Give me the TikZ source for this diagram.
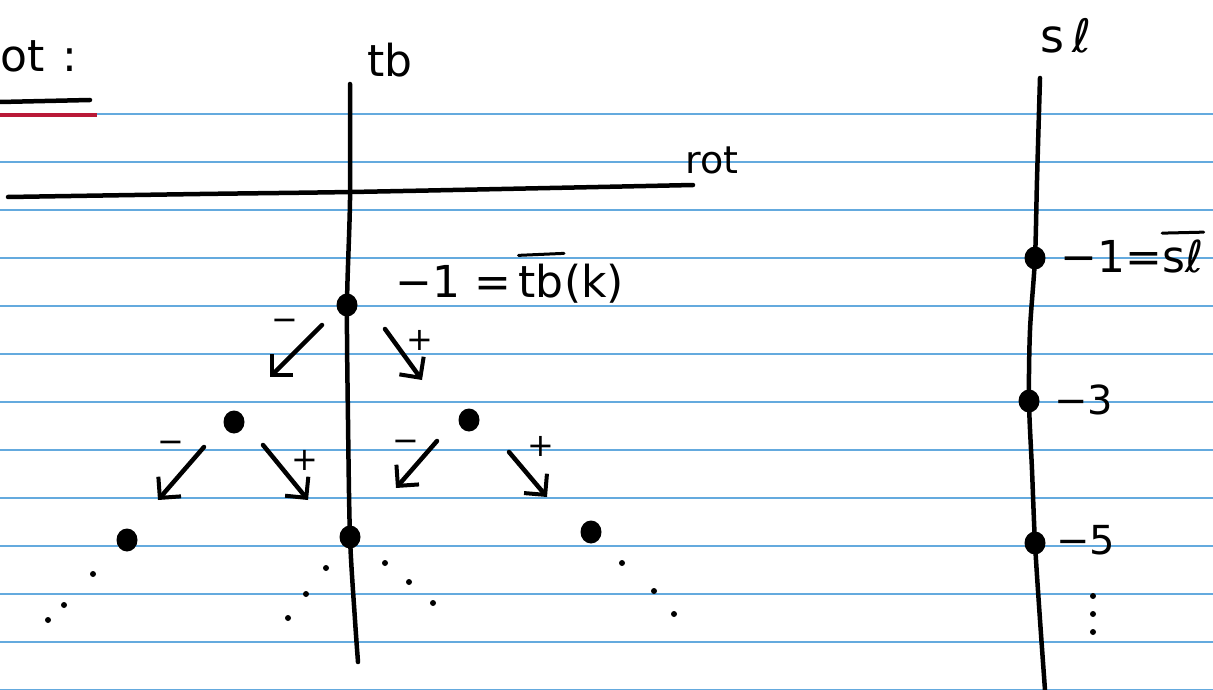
\documentclass[tikz,border=0pt]{standalone}
\usepackage{fontspec}
\setmainfont{DejaVu Sans}
\usetikzlibrary{arrows.meta,positioning}
\tikzset{
  ink/.style={line width=4.5pt, line cap=round, line join=round},
  thinink/.style={line width=3pt, line cap=round},
  paperline/.style={line width=1.6pt, color=ruleblue},
  bigdot/.style={ellipse, fill=black, inner sep=0pt, minimum width=21pt, minimum height=23pt},
  tinydot/.style={circle, fill=black, inner sep=0pt, minimum size=6pt},
  hand/.style={inner sep=0pt, font=\fontsize{44}{50}\selectfont},
  signmark/.style={inner sep=0pt, font=\fontsize{32}{34}\selectfont},
  movearrow/.style={ink, -{Straight Barb[length=15pt,width=30pt,line width=4pt]}}
}
\usetikzlibrary{shapes.geometric}
\definecolor{ruleblue}{RGB}{100,170,222}
\definecolor{marginred}{RGB}{185,25,55}
\begin{document}
\begin{tikzpicture}[x=1pt,y=-1pt]
\useasboundingbox (0,0) rectangle (1213,690);
\fill[white] (0,0) rectangle (1213,690);
% ruled paper
\foreach \k in {0,...,12} \draw[paperline] (0,{114+48*\k}) -- (1213,{114+48*\k});
\draw[line width=3.5pt, marginred] (0,115) -- (97,115);

% title
\node[hand, anchor=west] (title) at (0,56) {ot\hspace{18pt}:};
\draw[ink] (0,102) -- (90,100);

% axes
\node[hand] (tblab) at (390,60) {tb};
\draw[ink] plot[smooth] coordinates {(350,84) (350,200) (347,305) (348,420) (350,537) (355,620) (358,662)};
\draw[ink] plot[smooth] coordinates {(8,197) (200,194) (350,192) (550,188) (693,185)};
\node[inner sep=0pt, font=\fontsize{38}{40}\selectfont] (rotlab) at (712,160) {rot};

% tree dots
\node[bigdot] (d0) at (347,305) {};
\node[bigdot] (d1) at (234,422) {};
\node[bigdot] (d2) at (469,420) {};
\node[bigdot] (d3) at (127,540) {};
\node[bigdot] (d4) at (350,537) {};
\node[bigdot] (d5) at (591,532) {};
\node[hand, anchor=base west] (d0a) at (395,297) {−1 =\,};
\node[hand, anchor=base west] (d0b) at (d0a.base east) {tb};
\node[hand, anchor=base west] (d0c) at (d0b.base east) {(k)};
\draw[thinink] ([yshift=8pt]d0b.north west) -- ([yshift=10pt]d0b.north east);

% arrows with signs
\coordinate (a1s) at (322,325); \coordinate (a1e) at (270,377);
\coordinate (a2s) at (385,329); \coordinate (a2e) at (422,380);
\coordinate (a3s) at (204,447); \coordinate (a3e) at (158,500);
\coordinate (a4s) at (263,445); \coordinate (a4e) at (308,500);
\coordinate (a5s) at (437,441); \coordinate (a5e) at (396,488);
\coordinate (a6s) at (509,452); \coordinate (a6e) at (547,497);
\draw[movearrow] (a1s) -- (a1e);
\draw[movearrow] (a2s) -- (a2e);
\draw[movearrow] (a3s) -- (a3e);
\draw[movearrow] (a4s) -- (a4e);
\draw[movearrow] (a5s) -- (a5e);
\draw[movearrow] (a6s) -- (a6e);
\node[signmark] (m1) at (285,325) {−};
\node[signmark] (p2) at (420,340) {+};
\node[signmark] (m3) at (171,447) {−};
\node[signmark] (p4) at (305,460) {+};
\node[signmark] (m5) at (406,446) {−};
\node[signmark] (p6) at (541,446) {+};

% continuation dots
\foreach \p [count=\i] in {(93,574),(64,605),(48,620),(326,568),(306,594),(288,618),(385,563),(409,582),(433,603),(622,563),(654,591),(674,614)}
  \node[tinydot] (c\i) at \p {};

% sl axis
\node[inner sep=0pt, font=\fontsize{46}{50}\selectfont] (sllab) at (1066,36) {s\,ℓ};
\draw[ink] plot[smooth] coordinates {(1040,78) (1037,180) (1035,258) (1030,330) (1029,401) (1032,470) (1035,543) (1040,620) (1045,690)};
\node[bigdot] (s1) at (1035,258) {};
\node[bigdot] (s3) at (1029,401) {};
\node[bigdot] (s5) at (1035,543) {};
\node[hand, anchor=base west] (s1a) at (1060,272) {−1=};
\node[hand, anchor=base west] (s1b) at (s1a.base east) {sℓ};
\draw[thinink] ([yshift=6pt]s1b.north west) -- ([yshift=7pt]s1b.north east);
\node[inner sep=0pt, anchor=west, font=\fontsize{40}{44}\selectfont] (s3lab) at (1054,400) {−3};
\node[inner sep=0pt, anchor=west, font=\fontsize{40}{44}\selectfont] (s5lab) at (1056,540) {−5};
\node[tinydot] (v1) at (1093,596) {};
\node[tinydot] (v2) at (1093,614) {};
\node[tinydot] (v3) at (1093,632) {};
\end{tikzpicture}
\end{document}
